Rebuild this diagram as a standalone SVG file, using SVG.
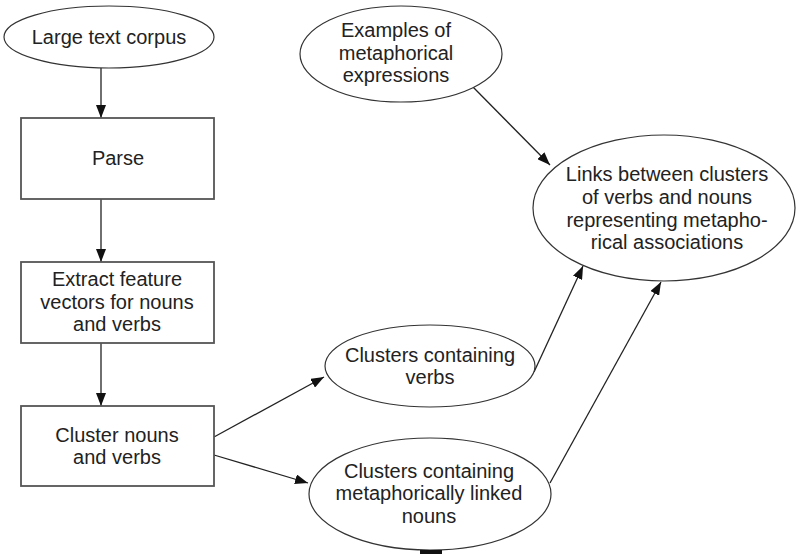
<svg xmlns="http://www.w3.org/2000/svg" width="796" height="554" viewBox="0 0 796 554">
<defs>
<style>
.box{fill:#fff;stroke:#555;stroke-width:1.8}
.ell{fill:#fff;stroke:#333;stroke-width:1.2}
.t{font-family:"Liberation Sans",Arial,sans-serif;font-size:20px;fill:#222;text-anchor:middle}
.c{stroke:#222;stroke-width:1.3;fill:none}
</style>
<marker id="ah" viewBox="0 0 13 10" refX="13" refY="5" markerWidth="13" markerHeight="10" markerUnits="userSpaceOnUse" orient="auto">
<path d="M0,0 L13,5 L0,10 Z" fill="#111"/>
</marker>
</defs>
<rect width="796" height="554" fill="#fff"/>
<g id="connectors">
<line class="c" x1="101" y1="68" x2="101" y2="118" marker-end="url(#ah)"/>
<line class="c" x1="101" y1="199" x2="101" y2="262" marker-end="url(#ah)"/>
<line class="c" x1="101" y1="343" x2="101" y2="406" marker-end="url(#ah)"/>
<line class="c" x1="214" y1="437" x2="324" y2="377" marker-end="url(#ah)"/>
<line class="c" x1="214" y1="455" x2="308" y2="483" marker-end="url(#ah)"/>
<line class="c" x1="472" y1="86" x2="550" y2="165" marker-end="url(#ah)"/>
<line class="c" x1="534" y1="372" x2="583" y2="266" marker-end="url(#ah)"/>
<line class="c" x1="550" y1="483" x2="661" y2="282" marker-end="url(#ah)"/>
</g>
<g id="corpus">
<ellipse class="ell" cx="109" cy="37" rx="105" ry="31"/>
<text class="t" x="109" y="44">Large text corpus</text>
</g>
<g id="parse">
<rect class="box" x="21" y="118" width="193" height="81"/>
<text class="t" x="118" y="165">Parse</text>
</g>
<g id="extract">
<rect class="box" x="21" y="262" width="193" height="81"/>
<text class="t" x="117" y="286">Extract feature</text>
<text class="t" x="117" y="308.5">vectors for nouns</text>
<text class="t" x="117" y="331">and verbs</text>
</g>
<g id="cluster">
<rect class="box" x="21" y="406" width="193" height="80"/>
<text class="t" x="117" y="442">Cluster nouns</text>
<text class="t" x="117" y="464">and verbs</text>
</g>
<g id="examples">
<ellipse class="ell" cx="401" cy="54" rx="101" ry="48"/>
<text class="t" x="396" y="37">Examples of</text>
<text class="t" x="396" y="60">metaphorical</text>
<text class="t" x="396" y="82">expressions</text>
</g>
<g id="links">
<ellipse class="ell" cx="664" cy="208" rx="131" ry="73"/>
<text class="t" x="667" y="181">Links between clusters</text>
<text class="t" x="667" y="204">of verbs and nouns</text>
<text class="t" x="667" y="227">representing metapho-</text>
<text class="t" x="667" y="249">rical associations</text>
</g>
<g id="verbs">
<ellipse class="ell" cx="430" cy="366" rx="105" ry="41"/>
<text class="t" x="430" y="362">Clusters containing</text>
<text class="t" x="430" y="384">verbs</text>
</g>
<g id="nouns">
<ellipse class="ell" cx="430" cy="494" rx="121" ry="56"/>
<text class="t" x="429" y="478">Clusters containing</text>
<text class="t" x="429" y="500">metaphorically linked</text>
<text class="t" x="429" y="523">nouns</text>
<rect x="420" y="550" width="22" height="4" fill="#111"/>
</g>
</svg>
